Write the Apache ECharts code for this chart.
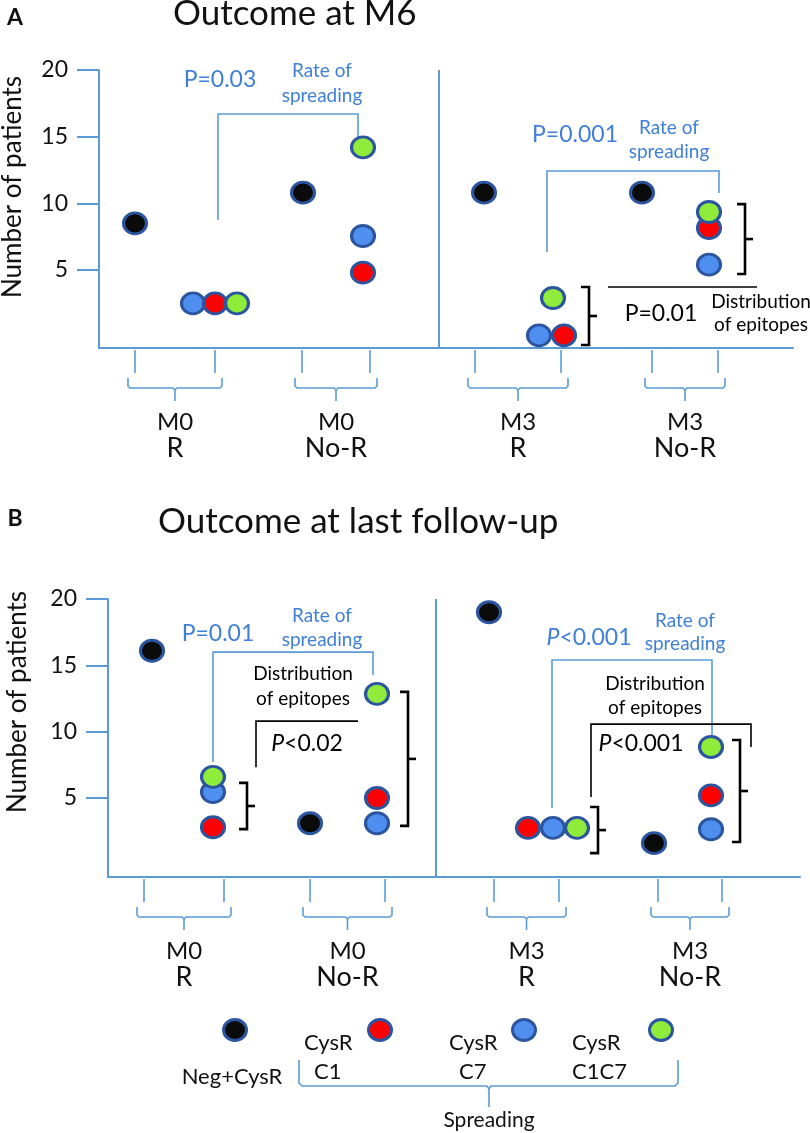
<!DOCTYPE html>
<html><head><meta charset="utf-8">
<script src="https://cdn.jsdelivr.net/npm/echarts@6/dist/echarts.min.js"></script>
<style>html,body{margin:0;padding:0;background:#fff}#chart{width:810px;height:1133px}</style>
</head><body><div id="chart"></div>
<script>
// ---------------- DATA ----------------
const groups = ['M0|R', 'M0|No-R', 'M3|R', 'M3|No-R'];
const legendNames = ['Neg+CysR', 'CysR C1', 'CysR C7', 'CysR C1C7'];
const yTicks = [5, 10, 15, 20];
const titleA = 'Outcome at M6';
const titleB = 'Outcome at last follow-up';
const yName = 'Number of patients';
// Panel A (Outcome at M6): number of patients per group
const negA  = [8.5, 10.8, 10.8, 10.8];
const c1A   = [2.5, 4.8, 0.1, 8.15];
const c7A   = [2.5, 7.55, 0.1, 5.4];
const c1c7A = [2.5, 14.2, 2.9, 9.35];
// Panel B (Outcome at last follow-up)
const negB  = [16.1, 3.1, 19.0, 1.6];
const c1B   = [2.8, 5.0, 2.75, 5.2];
const c7B   = [5.45, 3.1, 2.75, 2.65];
const c1c7B = [6.6, 12.85, 2.75, 8.85];

// ---------------- STYLE / LAYOUT ----------------
const FONT = 'Lato, "Open Sans", sans-serif';
const COL = {neg:'#0b0b0b', c1:'#ff0000', c7:'#4f8ff0', c1c7:'#8fec3a'};
const RING = '#2c55a0';
const AX = '#5b9bd5';
const BT = '#3f7fd6';
const BK = '#000000';
const keys = ['neg','c1','c7','c1c7'];
const drawOrder = ['neg','c7','c1','c1c7'];

const panels = [
  {
    grid:{left:99, top:70, width:694, height:278}, yMin:-0.85, xMax:694,
    data:{neg:negA, c1:c1A, c7:c7A, c1c7:c1c7A},
    negX:[36,204,385,543], sprX:[116,264,454,610],
    jit:{c1:[0,0,11,0], c7:[-22,0,-14,0], c1c7:[22,0,0,0]},
    brackets:[[36,116],[203,271],[376,462],[553,619]],
    annots:[
      {t:'line', color:AX, w:2, pts:[[340,20],[340,-0.85]]},
      {t:'line', color:AX, pts:[[119,8.75],[119,16.7],[259,16.7],[259,15.0]]},
      {t:'text', x:121, y:19.25, text:'P=0.03', color:BT, size:23},
      {t:'text', x:223, y:19.0, text:'Rate of\nspreading', color:BT, size:19, lh:25},
      {t:'line', color:AX, pts:[[448,6.35],[448,12.43],[620,12.43],[620,10.77]]},
      {t:'text', x:476, y:15.13, text:'P=0.001', color:BT, size:23},
      {t:'text', x:570, y:14.75, text:'Rate of\nspreading', color:BT, size:19, lh:24},
      {t:'brace', x:646, y1:9.94, y2:4.7},
      {t:'line', color:BK, pts:[[509,3.73],[658,3.73]]},
      {t:'text', x:562, y:1.7, text:'P=0.01', color:BK, size:23},
      {t:'text', x:662, y:1.74, text:'Distribution\nof epitopes', color:BK, size:19, lh:23},
      {t:'brace', x:490, y1:3.73, y2:-0.63}
    ]
  },
  {
    grid:{left:108, top:599, width:692, height:278}, yMin:-0.95, xMax:692,
    data:{neg:negB, c1:c1B, c7:c7B, c1c7:c1c7B},
    negX:[44,202,381,546], sprX:[105,269,445,603],
    jit:{c1:[0,0,-25,0], c7:[0,0,0,0], c1c7:[0,0,24,0]},
    brackets:[[36,116],[202,277],[386,451],[550,614]],
    annots:[
      {t:'line', color:AX, w:2, pts:[[328,20],[328,-0.95]]},
      {t:'line', color:AX, pts:[[105,7.71],[105,16.0],[265,16.0],[265,14.27]]},
      {t:'text', x:110, y:17.4, text:'P=0.01', color:BT, size:23},
      {t:'text', x:214, y:17.8, text:'Rate of\nspreading', color:BT, size:19, lh:24},
      {t:'text', x:195, y:13.4, text:'Distribution\nof epitopes', color:BK, size:19, lh:25},
      {t:'line', color:BK, pts:[[148,7.33],[148,10.8],[250,10.8]]},
      {t:'text', x:199, y:9.14, text:'{i|P}{n|<0.02}', color:BK, size:23},
      {t:'brace', x:139, y1:6.14, y2:2.66},
      {t:'brace', x:300, y1:13.0, y2:2.9},
      {t:'line', color:AX, pts:[[444,4.25],[444,15.4],[604,15.4],[604,9.75]]},
      {t:'text', x:481, y:17.1, text:'{i|P}{n|<0.001}', color:BT, size:23},
      {t:'text', x:577, y:17.47, text:'Rate of\nspreading', color:BT, size:19, lh:23},
      {t:'text', x:547, y:12.68, text:'Distribution\nof epitopes', color:BK, size:19, lh:24},
      {t:'line', color:BK, pts:[[483,5.08],[483,10.57],[643,10.57],[643,8.84]]},
      {t:'text', x:533, y:9.07, text:'{i|P}{n|<0.001}', color:BK, size:23},
      {t:'brace', x:632, y1:9.37, y2:1.69},
      {t:'brace', x:490, y1:4.32, y2:0.85}
    ]
  }
];

function makeRender(p) {
  return function (params, api) {
    const idx = params.dataIndex;
    const c = pt => api.coord(pt);
    if (idx >= p.annots.length) {
      // group brackets + labels below the x axis
      const g = idx - p.annots.length;
      const [x1, x2] = p.brackets[g];
      const a = c([x1, p.yMin]), b = c([x2, p.yMin]);
      const base = a[1], L = a[0], R = b[0], M = (L + R) / 2;
      const st = {stroke:AX, lineWidth:1.6, fill:null};
      const parts = groups[g].split('|');
      return {type:'group', silent:true, children:[
        {type:'polyline', shape:{points:[[L,base+2],[L,base+25]]}, style:st},
        {type:'polyline', shape:{points:[[R,base+2],[R,base+25]]}, style:st},
        {type:'polyline', shape:{points:[[L-7,base+30],[L-7,base+38],[L-5,base+40],[M-2,base+40],[M,base+42],[M,base+53]]}, style:st},
        {type:'polyline', shape:{points:[[M,base+42],[M+2,base+40],[R+5,base+40],[R+7,base+38],[R+7,base+30]]}, style:st},
        {type:'text', x:M, y:base+88, style:{
          text:'{a|' + parts[0] + '}\n{b|' + parts[1] + '}', align:'center', verticalAlign:'middle',
          rich:{a:{fontSize:24, lineHeight:25, fontFamily:FONT, fill:'#111', align:'center'},
                b:{fontSize:27, lineHeight:28, fontFamily:FONT, fill:'#111', align:'center'}}}}
      ]};
    }
    const a = p.annots[idx];
    if (a.t === 'line') {
      return {type:'polyline', silent:true, shape:{points:a.pts.map(c)}, style:{stroke:a.color, lineWidth:a.w || 1.6, fill:null}};
    }
    if (a.t === 'text') {
      const q = c([a.x, a.y]);
      return {type:'text', silent:true, x:q[0], y:q[1], style:{
        text:a.text, fill:a.color, fontSize:a.size, fontFamily:FONT, align:'center', verticalAlign:'middle',
        lineHeight:a.lh || a.size * 1.2,
        rich:{i:{fontStyle:'italic', fontSize:a.size, fontFamily:FONT, fill:a.color},
              n:{fontSize:a.size, fontFamily:FONT, fill:a.color}}}};
    }
    if (a.t === 'brace') {
      const t = c([a.x, a.y1]), b = c([a.x, a.y2]);
      const x = t[0], m = (t[1] + b[1]) / 2;
      const st = {stroke:BK, lineWidth:2.6, fill:null};
      return {type:'group', silent:true, children:[
        {type:'polyline', shape:{points:[[x-8,t[1]],[x,t[1]],[x,b[1]],[x-8,b[1]]]}, style:st},
        {type:'polyline', shape:{points:[[x,m],[x+8,m]]}, style:st}
      ]};
    }
    return null;
  };
}

const grid = [], xAxis = [], yAxis = [], series = [];
panels.forEach((p, pi) => {
  grid.push(p.grid);
  xAxis.push({type:'value', gridIndex:pi, min:0, max:p.xMax,
    axisLine:{show:true, onZero:false, lineStyle:{color:AX, width:2}},
    axisTick:{show:false}, axisLabel:{show:false}, splitLine:{show:false}});
  yAxis.push({type:'value', gridIndex:pi, min:p.yMin, max:20,
    axisLine:{show:true, onZero:false, lineStyle:{color:AX, width:2}},
    axisTick:{show:true, length:22, customValues:yTicks, lineStyle:{color:AX, width:2}},
    axisLabel:{show:true, customValues:yTicks, margin:31, fontSize:23, color:'#111', fontFamily:FONT,
      formatter: v => (yTicks.indexOf(v) >= 0 ? String(v) : '')},
    splitLine:{show:false}});
  drawOrder.forEach(k => {
    const vals = p.data[k];
    series.push({
      type:'scatter', name:legendNames[keys.indexOf(k)], xAxisIndex:pi, yAxisIndex:pi,
      symbol:'circle', symbolSize:[23,21], silent:true, z:5,
      itemStyle:{color:COL[k], borderColor:RING, borderWidth:3, opacity:1},
      data: vals.map((v, g) => [k === 'neg' ? p.negX[g] : p.sprX[g] + p.jit[k][g], v])
    });
  });
  series.push({
    type:'custom', xAxisIndex:pi, yAxisIndex:pi, z:3, silent:true, clip:false,
    renderItem: makeRender(p),
    data: p.annots.concat(p.brackets).map(() => [1, 1])
  });
});

// legend (drawn as graphics below the panels)
const legX = [235, 380, 524, 661], legY = 1030;
const legendGraphics = [];
keys.forEach((k, i) => {
  legendGraphics.push({type:'ellipse', shape:{cx:legX[i], cy:legY, rx:11.5, ry:10.5},
    style:{fill:COL[k], stroke:RING, lineWidth:3}});
});
const txt = (x, y, text, size, extra) => Object.assign({type:'text', x, y,
  style:Object.assign({text, fontSize:size, fontFamily:FONT, fill:'#111', align:'center', verticalAlign:'middle'}, extra || {})});
legendGraphics.push(txt(232, 1077, legendNames[0], 22));
const cysLeft = [304, 449, 572], subLeft = [314, 459, 572];
[1,2,3].forEach((n, i) => {
  const parts = legendNames[n].split(' ');
  legendGraphics.push(txt(cysLeft[i], 1043, parts[0], 22, {align:'left'}));
  legendGraphics.push(txt(subLeft[i], 1072, parts[1], 22, {align:'left'}));
});
legendGraphics.push({type:'polyline', shape:{points:[[299,1060],[299,1083],[302,1086],[487,1086],[489,1089],[489,1107]]}, style:{stroke:AX, lineWidth:1.6, fill:null}});
legendGraphics.push({type:'polyline', shape:{points:[[489,1089],[491,1086],[675,1086],[678,1083],[678,1060]]}, style:{stroke:AX, lineWidth:1.6, fill:null}});
legendGraphics.push(txt(489, 1120, 'Spreading', 21));

const graphic = [
  txt(15, 18, 'A', 23, {fontWeight:'bold'}),
  txt(173, 14, titleA, 35, {align:'left'}),
  txt(15, 519, 'B', 23, {fontWeight:'bold'}),
  txt(158, 522, titleB, 35, {align:'left'}),
  Object.assign(txt(13, 187, yName, 26), {rotation:Math.PI/2}),
  Object.assign(txt(18, 702, yName, 26), {rotation:Math.PI/2})
].concat(legendGraphics);

const chart = echarts.init(document.getElementById('chart'), null, {renderer:'canvas'});
chart.setOption({
  animation:false, backgroundColor:'#fff', tooltip:{show:false},
  grid, xAxis, yAxis, series, graphic
});
</script></body></html>
